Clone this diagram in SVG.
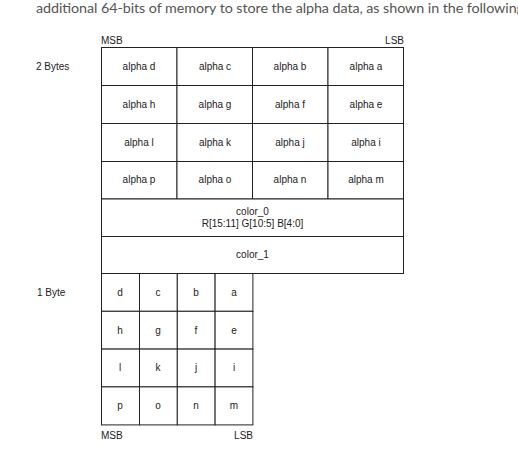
<svg xmlns="http://www.w3.org/2000/svg" width="518" height="453" viewBox="0 0 518 453">
<style>
.cap{font-family:Lato,"Open Sans",sans-serif;font-size:14.3px;fill:#555}
.t{font-family:"Liberation Sans",Arial,sans-serif;font-size:10px;fill:#222}
.c{text-anchor:middle}
.cell{fill:#fff;stroke:#222;stroke-width:1}
</style>
<rect width="518" height="453" fill="#fff"/>
<text class="cap" x="36" y="13" textLength="488" lengthAdjust="spacing">additional 64-bits of memory to store the alpha data, as shown in the following</text>
<g id="labels">
<text class="t" x="101" y="44">MSB</text>
<text class="t" x="404" y="44" text-anchor="end">LSB</text>
<text class="t" x="36" y="70">2 Bytes</text>
<text class="t" x="37" y="296">1 Byte</text>
<text class="t" x="101" y="439">MSB</text>
<text class="t" x="253" y="439" text-anchor="end">LSB</text>
</g>
<g id="alpha16">
<rect class="cell" x="101.5" y="47.5" width="75.5" height="38"/>
<rect class="cell" x="177" y="47.5" width="75.5" height="38"/>
<rect class="cell" x="252.5" y="47.5" width="75.5" height="38"/>
<rect class="cell" x="328" y="47.5" width="75.5" height="38"/>
<rect class="cell" x="101.5" y="85.5" width="75.5" height="38"/>
<rect class="cell" x="177" y="85.5" width="75.5" height="38"/>
<rect class="cell" x="252.5" y="85.5" width="75.5" height="38"/>
<rect class="cell" x="328" y="85.5" width="75.5" height="38"/>
<rect class="cell" x="101.5" y="123.5" width="75.5" height="38"/>
<rect class="cell" x="177" y="123.5" width="75.5" height="38"/>
<rect class="cell" x="252.5" y="123.5" width="75.5" height="38"/>
<rect class="cell" x="328" y="123.5" width="75.5" height="38"/>
<rect class="cell" x="101.5" y="161.5" width="75.5" height="37.5"/>
<rect class="cell" x="177" y="161.5" width="75.5" height="37.5"/>
<rect class="cell" x="252.5" y="161.5" width="75.5" height="37.5"/>
<rect class="cell" x="328" y="161.5" width="75.5" height="37.5"/>
<text class="t c" x="139" y="70">alpha d</text>
<text class="t c" x="215" y="70">alpha c</text>
<text class="t c" x="290" y="70">alpha b</text>
<text class="t c" x="366" y="70">alpha a</text>
<text class="t c" x="139" y="108">alpha h</text>
<text class="t c" x="215" y="108">alpha g</text>
<text class="t c" x="290" y="108">alpha f</text>
<text class="t c" x="366" y="108">alpha e</text>
<text class="t c" x="139" y="146">alpha l</text>
<text class="t c" x="215" y="146">alpha k</text>
<text class="t c" x="290" y="146">alpha j</text>
<text class="t c" x="366" y="146">alpha i</text>
<text class="t c" x="139" y="183">alpha p</text>
<text class="t c" x="215" y="183">alpha o</text>
<text class="t c" x="290" y="183">alpha n</text>
<text class="t c" x="366" y="183">alpha m</text>
</g>
<g id="color0">
<rect class="cell" x="101.5" y="199" width="302" height="37.5"/>
<text class="t c" x="252.5" y="215">color_0</text>
<text class="t c" x="252.5" y="227">R[15:11] G[10:5]  B[4:0]</text>
</g>
<g id="color1">
<rect class="cell" x="101.5" y="236.5" width="302" height="37"/>
<text class="t c" x="252.5" y="258">color_1</text>
</g>
<g id="alpha8">
<rect class="cell" x="101.5" y="273.5" width="38" height="37.8"/>
<rect class="cell" x="139.5" y="273.5" width="37.8" height="37.8"/>
<rect class="cell" x="177.3" y="273.5" width="37.8" height="37.8"/>
<rect class="cell" x="215.1" y="273.5" width="37.8" height="37.8"/>
<rect class="cell" x="101.5" y="311.3" width="38" height="37.8"/>
<rect class="cell" x="139.5" y="311.3" width="37.8" height="37.8"/>
<rect class="cell" x="177.3" y="311.3" width="37.8" height="37.8"/>
<rect class="cell" x="215.1" y="311.3" width="37.8" height="37.8"/>
<rect class="cell" x="101.5" y="349.1" width="38" height="37.8"/>
<rect class="cell" x="139.5" y="349.1" width="37.8" height="37.8"/>
<rect class="cell" x="177.3" y="349.1" width="37.8" height="37.8"/>
<rect class="cell" x="215.1" y="349.1" width="37.8" height="37.8"/>
<rect class="cell" x="101.5" y="386.9" width="38" height="38"/>
<rect class="cell" x="139.5" y="386.9" width="37.8" height="38"/>
<rect class="cell" x="177.3" y="386.9" width="37.8" height="38"/>
<rect class="cell" x="215.1" y="386.9" width="37.8" height="38"/>
<text class="t c" x="120" y="296">d</text>
<text class="t c" x="158" y="296">c</text>
<text class="t c" x="196" y="296">b</text>
<text class="t c" x="234" y="296">a</text>
<text class="t c" x="120" y="334">h</text>
<text class="t c" x="158" y="334">g</text>
<text class="t c" x="196" y="334">f</text>
<text class="t c" x="234" y="334">e</text>
<text class="t c" x="120" y="371">l</text>
<text class="t c" x="158" y="371">k</text>
<text class="t c" x="196" y="371">j</text>
<text class="t c" x="234" y="371">i</text>
<text class="t c" x="120" y="409">p</text>
<text class="t c" x="158" y="409">o</text>
<text class="t c" x="196" y="409">n</text>
<text class="t c" x="234" y="409">m</text>
</g>
</svg>
